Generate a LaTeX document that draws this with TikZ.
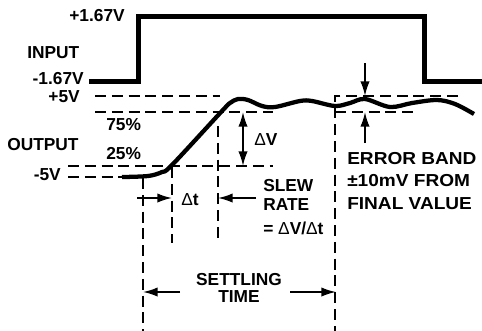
\documentclass[tikz,border=0pt]{standalone}
\usepackage{fontspec}
\setmainfont{Liberation Sans}
\usetikzlibrary{arrows.meta}
\newcommand\dlt{{\mdseries Δ}}
\tikzset{
  lbl/.style={font=\bfseries\fontsize{13}{15}\selectfont, inner sep=0pt},
  sig/.style={line width=3.75pt, line join=miter},
  outcurve/.style={line width=3.2pt},
  dsh/.style={line width=1.2pt, dash pattern=on 8.2pt off 4.4pt},
  arr/.style={line width=1.3pt, -{Latex[length=11pt,width=7pt]}},
  darr/.style={line width=1.3pt, {Latex[length=11pt,width=7pt]}-{Latex[length=11pt,width=7pt]}},
}
\begin{document}
\begin{tikzpicture}[x=0.75pt,y=-0.75pt]
\useasboundingbox (0,0) rectangle (482,330);
% input signal
\draw[sig] (89,81) -- (138,81) -- (138,16) -- (424,16) -- (424,81) -- (483,81);
% labels
\node[lbl,anchor=east] (vhi) at (125,16) {+1.67V};
\node[lbl,anchor=west] (inp) at (27,53) {INPUT};
\node[lbl,anchor=east] (vlo) at (84,79) {-1.67V};
\node[lbl,anchor=east] (p5) at (80,97) {+5V};
\node[lbl,anchor=west] (p75) at (106,125) {75\%};
\node[lbl,anchor=west] (outp) at (7,145) {OUTPUT};
\node[lbl,anchor=west] (p25) at (106,154) {25\%};
\node[lbl,anchor=east] (m5) at (61,175) {-5V};
% horizontal dashed levels
\draw[dsh] (95,96) -- (220,96);
\draw[dsh] (95,112) -- (273,112);
\draw[dsh] (68,166) -- (273,166);
\draw[dsh] (68,177) -- (122,177);
% error band
\draw[dsh] (458,96) -- (335,96) -- (335,331);
\draw[dsh] (335,112) -- (417,112);
% vertical dashed
\draw[dsh] (143,178) -- (143,331);
\draw[dsh] (172,167) -- (172,243);
\draw[dsh] (218,126) -- (218,239);
% output curve
\draw[outcurve] plot[smooth, tension=0.55] coordinates {
 (122,177) (148,176) (162,172) (172,165) (222,111) (230,103) (238,99) (248,100)
 (262,106) (275,107) (300,101) (312,101) (335,106) (350,103) (365,99) (390,107)
 (412,103) (437,100) (455,104) (474,114)};
% delta V
\coordinate (dvt) at (243,112);
\coordinate (dvb) at (243,166);
\draw[darr] (dvt) -- (dvb);
\node[lbl,anchor=west] (dv) at (254,140) {\dlt V};
% error band arrows
\coordinate (eat) at (365,63);
\coordinate (eatip) at (365,96);
\coordinate (eab) at (365,143);
\coordinate (eabtip) at (365,112);
\draw[arr] (eat) -- (eatip);
\draw[arr] (eab) -- (eabtip);
% delta t
\coordinate (dtl) at (137,198);
\coordinate (dtltip) at (172,198);
\coordinate (dtr) at (256,198);
\coordinate (dtrtip) at (218,198);
\draw[arr] (dtl) -- (dtltip);
\draw[arr] (dtr) -- (dtrtip);
\node[lbl] (dt) at (190,200) {\dlt t};
% slew rate
\node[lbl,anchor=west] (slew) at (263,186) {SLEW};
\node[lbl,anchor=west] (rate) at (263,205) {RATE};
\node[lbl,anchor=west] (eq) at (263,228) {= \dlt V/\dlt t};
% error band text
\node[lbl,anchor=west] (eb1) at (347,159) {\scalebox{1.1}[1]{ERROR BAND}};
\node[lbl,anchor=west] (eb2) at (347,181) {\scalebox{1.1}[1]{±10mV FROM}};
\node[lbl,anchor=west] (eb3) at (347,204) {\scalebox{1.1}[1]{FINAL VALUE}};
% settling time
\node[lbl] (set1) at (239,280) {SETTLING};
\node[lbl] (set2) at (239,297) {TIME};
\coordinate (stl) at (180,292);
\coordinate (stltip) at (143,292);
\coordinate (str) at (290,292);
\coordinate (strtip) at (336,292);
\draw[arr] (stl) -- (stltip);
\draw[arr] (str) -- (strtip);
\end{tikzpicture}
\end{document}
